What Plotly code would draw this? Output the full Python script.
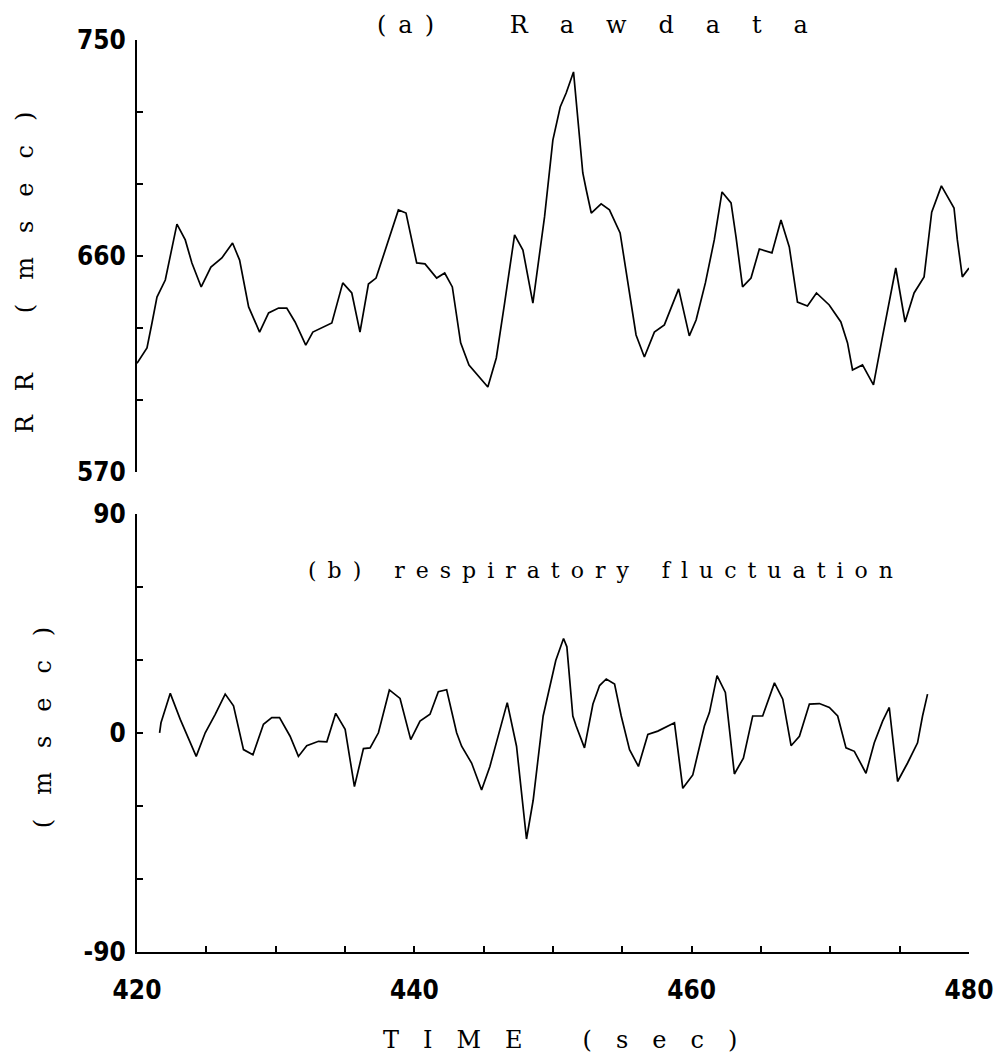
import plotly.graph_objects as go

# ---------------- data ----------------
time_a = [420.0, 420.72, 421.08, 421.44, 422.04, 422.40, 422.88, 423.48, 423.96, 424.63,
          425.33, 426.12, 426.89, 427.40, 428.05, 428.84, 429.49, 430.21, 430.80, 431.40,
          432.17, 432.68, 433.33, 434.05, 434.84, 435.49, 436.08, 436.69, 437.24, 437.89,
          438.85, 439.40, 440.17, 440.77, 441.61, 442.19, 442.74, 443.34, 443.94, 445.30,
          445.91, 446.51, 447.23, 447.83, 448.55, 449.39, 449.99, 450.52, 450.95, 451.48,
          452.15, 452.40, 452.76, 453.47, 454.07, 454.84, 455.46, 455.99, 456.59, 457.31,
          458.03, 459.06, 459.83, 460.32, 460.99, 461.63, 462.19, 462.84, 463.20, 463.67,
          464.28, 464.88, 465.79, 466.44, 467.04, 467.63, 468.35, 469.00, 469.92, 470.76,
          471.24, 471.60, 472.32, 473.11, 473.76, 474.36, 474.72, 475.39, 476.04, 476.76,
          477.31, 478.01, 478.92, 479.16, 479.52, 480.0]
rr_raw = [615.3, 621.7, 632.1, 642.9, 650.0, 659.6, 673.3, 666.7, 657.1, 647.1,
          655.4, 659.2, 665.4, 658.3, 638.8, 628.3, 636.3, 638.3, 638.3, 632.5,
          622.9, 628.3, 630.0, 632.1, 648.8, 644.6, 628.3, 648.3, 650.8, 662.5,
          679.2, 677.9, 657.1, 656.7, 650.8, 652.9, 647.1, 623.8, 614.6, 605.4,
          617.5, 640.4, 668.8, 662.5, 640.4, 676.3, 708.3, 722.1, 727.9, 736.7,
          694.6, 687.5, 677.9, 681.7, 679.2, 669.6, 645.8, 627.1, 617.9, 628.3,
          631.3, 646.3, 626.7, 633.3, 648.8, 666.7, 686.7, 682.1, 667.9, 647.1,
          650.8, 662.9, 661.3, 675.0, 663.8, 640.8, 639.2, 644.6, 639.6, 632.5,
          623.8, 612.5, 614.6, 606.3, 626.3, 644.6, 655.0, 632.5, 644.6, 651.3,
          678.3, 689.2, 680.0, 666.7, 651.3, 655.0]

time_b = [421.63, 421.73, 422.40, 423.12, 424.27, 424.92, 425.64, 426.36, 426.96, 427.68,
          428.36, 429.12, 429.72, 430.28, 431.04, 431.64, 432.24, 433.09, 433.69, 434.33,
          435.01, 435.68, 436.33, 436.81, 437.41, 438.20, 438.97, 439.74, 440.41, 441.13,
          441.73, 442.33, 443.05, 443.41, 444.13, 444.85, 445.45, 446.70, 447.37, 448.09,
          448.57, 449.29, 450.20, 450.76, 451.00, 451.43, 451.67, 452.27, 452.88, 453.36,
          453.84, 454.44, 454.92, 455.52, 456.16, 456.84, 457.56, 458.76, 459.36, 460.08,
          460.92, 461.28, 461.83, 462.43, 463.08, 463.73, 464.40, 465.12, 465.97, 466.57,
          467.17, 467.77, 468.49, 469.21, 469.93, 470.53, 471.13, 471.73, 472.57, 473.17,
          473.77, 474.25, 474.85, 475.57, 476.29, 476.65, 477.01]
resp_b = [0.0, 4.1, 16.2, 5.5, -9.7, 0.0, 7.6, 15.9, 11.1, -6.9,
          -9.0, 3.5, 6.2, 6.2, -1.4, -9.7, -5.3, -3.5, -3.7, 8.0,
          1.4, -22.1, -6.5, -6.2, 0.0, 17.6, 14.1, -2.8, 4.8, 7.6,
          16.9, 17.7, 0.0, -5.5, -12.4, -23.5, -13.8, 12.4, -5.5, -43.6,
          -27.7, 6.9, 29.7, 38.7, 35.3, 6.9, 2.8, -6.2, 11.8, 19.4,
          22.1, 20.0, 6.9, -6.9, -13.8, -0.7, 0.7, 4.1, -22.8, -17.3,
          2.8, 8.3, 23.5, 16.6, -16.9, -10.4, 6.9, 6.9, 20.5, 13.8,
          -5.3, -1.4, 11.8, 12.0, 10.4, 6.9, -6.2, -7.6, -16.6, -4.1,
          4.8, 10.4, -20.0, -12.4, -4.1, 6.9, 15.9]

x_tickvals = [420, 425, 430, 435, 440, 445, 450, 455, 460, 465, 470, 475, 480]
x_ticktext = ["420", "", "", "", "440", "", "", "", "460", "", "", "", "480"]
ya_tickvals = [570, 600, 630, 660, 690, 720, 750]
ya_ticktext = ["570", "", "", "660", "", "", "750"]
yb_tickvals = [-90, -60, -30, 0, 30, 60, 90]
yb_ticktext = ["-90", "", "", "0", "", "", "90"]

title_a = "(a) Rawdata"
title_b = "(b) respiratory fluctuation"
x_title = "TIME (sec)"
ya_title = "RR (msec)"
yb_title = "(msec)"

# ---------------- layout geometry (pixels) ----------------
W, H = 1005, 1055
L, R_EDGE = 137, 971
TOP, BOT = 40, 952
PW, PH = R_EDGE - L, BOT - TOP


def px(x):
    return (x - L) / PW


def py(y):
    return (BOT - y) / PH


def spaced(s, gap, first_gap=None, word_gap="\u2002"):
    words = s.split(" ")
    out = []
    for i, w in enumerate(words):
        g = first_gap if (i == 0 and first_gap is not None) else gap
        out.append(g.join(list(w)))
    return (gap + word_gap + gap).join(out)


SERIF = "DejaVu Serif, Liberation Serif, serif"
TICKFONT = dict(family="DejaVu Sans Condensed, Liberation Sans Narrow, Arial Narrow, sans-serif",
                size=26, color="black", weight="bold")

fig = go.Figure()
fig.add_trace(go.Scatter(x=time_a, y=rr_raw, mode="lines", xaxis="x", yaxis="y",
                         line=dict(color="black", width=1.7), showlegend=False))
fig.add_trace(go.Scatter(x=time_b, y=resp_b, mode="lines", xaxis="x", yaxis="y2",
                         line=dict(color="black", width=1.7), showlegend=False))

axis_common = dict(ticks="inside", ticklen=6, tickwidth=1.5, tickcolor="black",
                   showline=True, linecolor="black", linewidth=2,
                   showgrid=False, zeroline=False, tickfont=TICKFONT,
                   tickmode="array")

fig.update_layout(
    width=W, height=H,
    margin=dict(l=L, r=W - R_EDGE, t=TOP, b=H - BOT),
    paper_bgcolor="white", plot_bgcolor="white",
    xaxis=dict(domain=[0, 1], anchor="y2", range=[420, 480],
               tickvals=x_tickvals, ticktext=x_ticktext,
               ticklabelstandoff=14, **axis_common),
    yaxis=dict(domain=[py(472), 1], anchor="x", range=[570, 750],
               tickvals=ya_tickvals, ticktext=ya_ticktext,
               ticklabelstandoff=4, **axis_common),
    yaxis2=dict(domain=[0, py(513.6)], anchor="x", range=[-90, 90],
                tickvals=yb_tickvals, ticktext=yb_ticktext,
                ticklabelstandoff=4, **axis_common),
)

ann = [
    dict(text=spaced(title_a, "\u2003\u2004", first_gap="\u2002", word_gap="\u2002"),
         x=px(594), y=py(25), size=24, angle=0),
    dict(text=spaced(title_b, "\u2002"), x=px(602), y=py(570), size=22, angle=0),
    dict(text=spaced(x_title, "\u2003"), x=px(561), y=py(1040), size=24, angle=0),
    dict(text=spaced(ya_title, "\u2003"), x=px(25), y=py(272), size=24, angle=-90),
    dict(text=spaced(yb_title, "\u2003"), x=px(43), y=py(728), size=24, angle=-90),
]
for a in ann:
    fig.add_annotation(text=a["text"], x=a["x"], y=a["y"], xref="paper", yref="paper",
                       xanchor="center", yanchor="middle", showarrow=False,
                       textangle=a["angle"],
                       font=dict(family=SERIF, size=a["size"], color="black"))

fig.write_html("out.html")
